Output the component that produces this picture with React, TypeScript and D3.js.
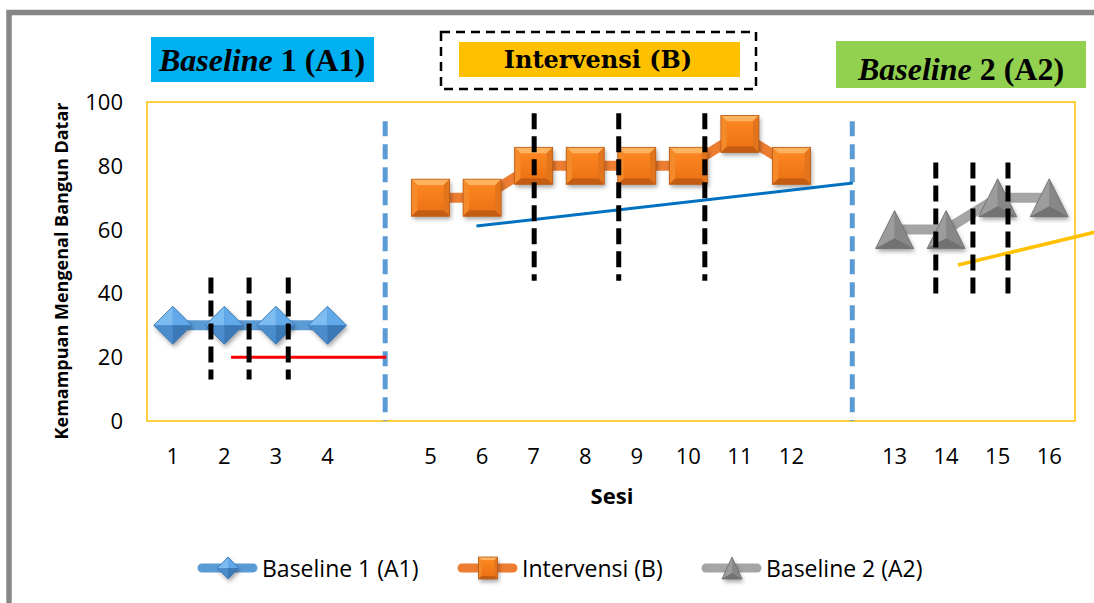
import React from "react";
import * as d3 from "d3";

const W = 1094;
const H = 603;

// ---- data ----
const sessionLabels = ["1", "2", "3", "4", "5", "6", "7", "8", "9", "10", "11", "12", "13", "14", "15", "16"];
const baseline1 = [30, 30, 30, 30]; // sessions 1-4
const intervensi = [70, 70, 80, 80, 80, 80, 90, 80]; // sessions 5-12
const baseline2 = [60, 60, 70, 70]; // sessions 13-16
const yTicks = [0, 20, 40, 60, 80, 100];

// category slots: 16 sessions + 2 empty gap slots (after 4 and after 12)
const slotOfSession = (s: number) => (s <= 4 ? s : s <= 12 ? s + 1 : s + 2);

// phase change lines (slot positions)
const phaseSlots = [5.12, 14.18];
const phaseTopValue = 94;

// trend lines [slot, value]
const trendA1: [number, number][] = [[2.13, 20], [5.14, 20]];
const trendB: [number, number][] = [[6.89, 61.1], [14.19, 74.6]];
const trendA2: [number, number][] = [[16.23, 48.9], [18.89, 59.2]];

// black dashed stability lines
const stabA1Slots = [1.74, 2.48, 3.24];
const stabA1Range = [13, 45];
const stabBSlots = [8.01, 9.65, 11.32];
const stabBRange = [44, 96.5];
const stabA2Slots = [15.8, 16.52, 17.2];
const stabA2Range = [39.5, 81];

const legendItems = ["Baseline 1 (A1)", "Intervensi (B)", "Baseline 2 (A2)"];

// ---- layout ----
const x = d3.scaleLinear().domain([0.5, 18.5]).range([147, 1075]);
const y = d3.scaleLinear().domain([0, 100]).range([421, 102]);

const AXIS_FONT = "'Open Sans', sans-serif";

function Diamond({ cx, cy, w, h }: { cx: number; cy: number; w: number; h: number }) {
  const a = w / 2, b = h / 2;
  const T = [cx, cy - b], R = [cx + a, cy], B = [cx, cy + b], L = [cx - a, cy], C = [cx, cy];
  const p = (pts: number[][]) => "M" + pts.map((q) => q.join(",")).join("L") + "Z";
  return (
    <g>
      <path d={p([T, R, B, L])} fill="#4f93d6" filter="url(#shadow)" />
      <path d={p([T, L, C])} fill="#7dbcf0" />
      <path d={p([T, R, C])} fill="#62a9ea" />
      <path d={p([L, B, C])} fill="#4b8ccd" />
      <path d={p([R, B, C])} fill="#3b78b6" />
      <path d={p([T, R, B, L])} fill="none" stroke="#3a73ad" strokeWidth={0.8} />
    </g>
  );
}

function Square({ cx, cy, w, h }: { cx: number; cy: number; w: number; h: number }) {
  const a = w / 2, b = h / 2, i = Math.min(w, h) * 0.16;
  const x0 = cx - a, x1 = cx + a, y0 = cy - b, y1 = cy + b;
  const p = (pts: number[][]) => "M" + pts.map((q) => q.join(",")).join("L") + "Z";
  return (
    <g>
      <rect x={x0} y={y0} width={w} height={h} fill="url(#orangeBody)" filter="url(#shadow)" />
      <path d={p([[x0, y0], [x1, y0], [x1 - i, y0 + i], [x0 + i, y0 + i]])} fill="#ffb35f" />
      <path d={p([[x0, y0], [x0 + i, y0 + i], [x0 + i, y1 - i], [x0, y1]])} fill="#f58a2a" />
      <path d={p([[x1, y0], [x1, y1], [x1 - i, y1 - i], [x1 - i, y0 + i]])} fill="#e2741c" />
      <path d={p([[x0, y1], [x0 + i, y1 - i], [x1 - i, y1 - i], [x1, y1]])} fill="#c45d12" />
      <rect x={x0} y={y0} width={w} height={h} fill="none" stroke="#b85a17" strokeWidth={0.8} />
    </g>
  );
}

function Triangle({ cx, cy, w, h }: { cx: number; cy: number; w: number; h: number }) {
  const a = w / 2, b = h / 2;
  const T = [cx, cy - b], L = [cx - a, cy + b], R = [cx + a, cy + b], C = [cx, cy + b * 0.45];
  const p = (pts: number[][]) => "M" + pts.map((q) => q.join(",")).join("L") + "Z";
  return (
    <g>
      <path d={p([T, R, L])} fill="#8f8f8f" filter="url(#shadow)" />
      <path d={p([T, L, C])} fill="#9c9c9c" />
      <path d={p([T, R, C])} fill="#878787" />
      <path d={p([L, R, C])} fill="#727272" />
      <path d={p([T, R, L])} fill="none" stroke="#6e6e6e" strokeWidth={0.8} />
    </g>
  );
}

export default function App() {
  const line = d3.line<[number, number]>().x((d) => d[0]).y((d) => d[1]);
  const pts = (vals: number[], startSession: number): [number, number][] =>
    vals.map((v, i) => [x(slotOfSession(startSession + i)), y(v)]);
  const pA1 = pts(baseline1, 1);
  const pB = pts(intervensi, 5);
  const pA2 = pts(baseline2, 13);
  const trend = (t: [number, number][]) => line(t.map((d) => [x(d[0]), y(d[1])] as [number, number])) || "";

  const stab = (slots: number[], range: number[]) =>
    slots.map((s, i) => (
      <line key={i} x1={x(s)} x2={x(s)} y1={y(range[1])} y2={y(range[0])} stroke="#000" strokeWidth={5} strokeDasharray="16 7" />
    ));

  const legendX = [197, 457, 701];
  const legendY = 568;

  return (
    <svg width={W} height={H} style={{ position: "absolute", left: 0, top: 0, display: "block" }} xmlns="http://www.w3.org/2000/svg">
      <defs>
        <filter id="shadow" x="-50%" y="-50%" width="200%" height="200%">
          <feDropShadow dx="1.5" dy="3" stdDeviation="2" floodColor="#000" floodOpacity="0.35" />
        </filter>
        <linearGradient id="orangeBody" x1="0" y1="0" x2="0" y2="1">
          <stop offset="0" stopColor="#ff8a24" />
          <stop offset="1" stopColor="#ea6f12" />
        </linearGradient>
      </defs>
      <rect x={0} y={0} width={W} height={H} fill="#fff" />
      {/* outer frame */}
      <rect x={9} y={12.5} width={1300} height={800} fill="none" stroke="#878787" strokeWidth={5.5} />

      {/* plot area */}
      <rect x={x(0.5)} y={y(100)} width={x(18.5) - x(0.5)} height={y(0) - y(100)} fill="none" stroke="#ffc000" strokeWidth={1.5} />

      {/* y ticks */}
      {yTicks.map((t) => (
        <text key={t} x={123} y={y(t)} dy="0.36em" textAnchor="end" fontFamily={AXIS_FONT} fontSize={22} fill="#000">
          {t}
        </text>
      ))}
      {/* x ticks */}
      {sessionLabels.map((s, i) => (
        <text key={s} x={x(slotOfSession(i + 1))} y={464} textAnchor="middle" fontFamily={AXIS_FONT} fontSize={22} fill="#000">
          {s}
        </text>
      ))}
      <text x={612} y={504} textAnchor="middle" fontFamily={AXIS_FONT} fontWeight="bold" fontSize={22} fill="#000">
        Sesi
      </text>
      <text transform={`translate(68,271) rotate(-90)`} textAnchor="middle" fontFamily={AXIS_FONT} fontWeight="bold" fontSize={18} fill="#000">
        Kemampuan Mengenal Bangun Datar
      </text>

      {/* phase lines */}
      {phaseSlots.map((s, i) => (
        <line key={i} x1={x(s)} x2={x(s)} y1={y(phaseTopValue)} y2={y(0)} stroke="#5b9bd5" strokeWidth={5} strokeDasharray="15 8" />
      ))}

      {/* series */}
      <path d={line(pA1) || ""} fill="none" stroke="#5b9bd5" strokeWidth={10} />
      <path d={line(pB) || ""} fill="none" stroke="#ed7d31" strokeWidth={10} />
      <path d={line(pA2) || ""} fill="none" stroke="#a5a5a5" strokeWidth={10} />
      {pA1.map((d, i) => <Diamond key={i} cx={d[0]} cy={d[1]} w={38} h={38} />)}
      {pB.map((d, i) => <Square key={i} cx={d[0]} cy={d[1]} w={38} h={37} />)}
      {pA2.map((d, i) => <Triangle key={i} cx={d[0]} cy={d[1]} w={38} h={38} />)}

      {/* trend lines */}
      <path d={trend(trendA1)} stroke="#ff0000" strokeWidth={3} fill="none" />
      <path d={trend(trendB)} stroke="#0070c0" strokeWidth={3} fill="none" />
      <path d={trend(trendA2)} stroke="#ffc000" strokeWidth={3.5} fill="none" />

      {/* stability dashed lines */}
      {stab(stabA1Slots, stabA1Range)}
      {stab(stabBSlots, stabBRange)}
      {stab(stabA2Slots, stabA2Range)}

      {/* phase titles */}
      <rect x={151} y={37} width={223} height={45} fill="#00b0f0" />
      <text x={262} y={71} textAnchor="middle" fontFamily="'Liberation Serif', serif" fontWeight="bold" fontSize={32} fill="#000">
        <tspan fontStyle="italic">Baseline</tspan> 1 (A1)
      </text>

      <rect x={441} y={32} width={315} height={57} fill="none" stroke="#000" strokeWidth={2.5} strokeDasharray="9 6" />
      <rect x={459} y={42} width={281} height={35} fill="#ffc000" />
      <text x={598} y={68} textAnchor="middle" fontFamily="'DejaVu Serif', serif" fontWeight="bold" fontSize={24} fill="#000">
        Intervensi (B)
      </text>

      <rect x={836} y={41} width={250} height={47} fill="#92d050" />
      <text x={961} y={80} textAnchor="middle" fontFamily="'Liberation Serif', serif" fontWeight="bold" fontSize={32} fill="#000">
        <tspan fontStyle="italic">Baseline</tspan> 2 (A2)
      </text>

      {/* legend */}
      {legendItems.map((name, i) => {
        const lx = legendX[i];
        const color = ["#5b9bd5", "#ed7d31", "#a5a5a5"][i];
        const cx = lx + 31;
        return (
          <g key={name}>
            <line x1={lx + 5} x2={lx + 56} y1={legendY} y2={legendY} stroke={color} strokeWidth={9} strokeLinecap="round" />
            {i === 0 && <Diamond cx={cx} cy={legendY} w={21} h={22} />}
            {i === 1 && <Square cx={cx} cy={legendY} w={19} h={22} />}
            {i === 2 && <Triangle cx={cx} cy={legendY} w={20} h={22} />}
            <text x={lx + 65} y={legendY + 9} fontFamily={AXIS_FONT} fontSize={23} fill="#000">
              {name}
            </text>
          </g>
        );
      })}
    </svg>
  );
}
